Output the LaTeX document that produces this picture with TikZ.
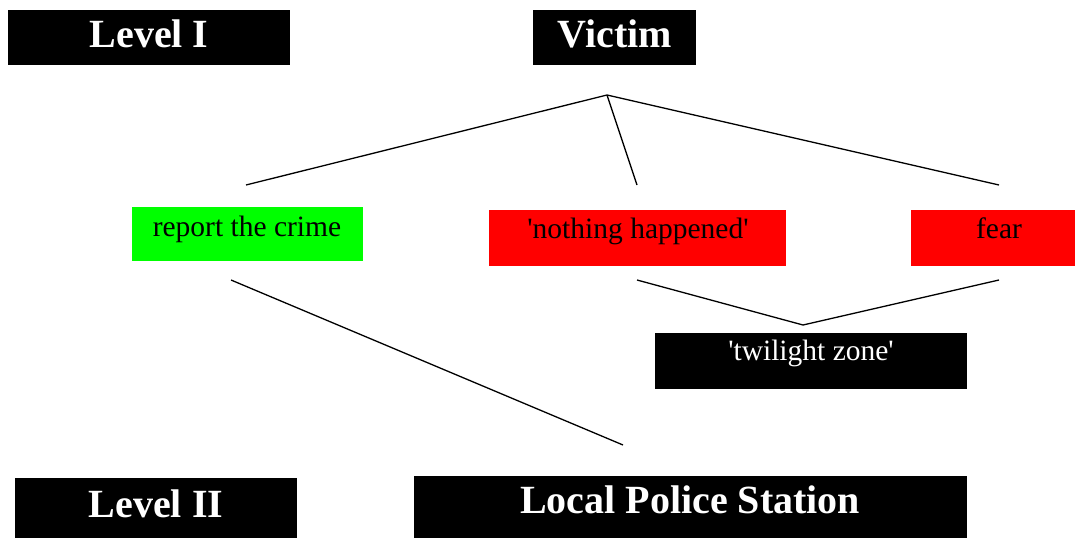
\documentclass[tikz,border=0pt]{standalone}
\usepackage{fontspec}
\setmainfont{Liberation Serif}
\begin{document}
\begin{tikzpicture}[x=1pt,y=-1pt,
  box/.style={inner sep=0pt, outer sep=0pt, anchor=north west, draw=none},
  blackbox/.style={box, fill=black},
  greenbox/.style={box, fill=boxgreen},
  redbox/.style={box, fill=boxred},
  bigtext/.style={font=\fontsize{40}{40}\selectfont\bfseries, text=white, anchor=base, inner sep=0pt},
  smalltext/.style={font=\fontsize{29.5}{29.5}\selectfont, anchor=base, inner sep=0pt},
  link/.style={line width=1.3pt, draw=black}]
\definecolor{boxgreen}{HTML}{00FF00}
\definecolor{boxred}{HTML}{FF0000}
\useasboundingbox (0,0) rectangle (1075,540);

% boxes
\node[blackbox, minimum width=282pt, minimum height=55pt] (lvlIbox) at (8,10) {};
\node[blackbox, minimum width=163pt, minimum height=55pt] (victimbox) at (533,10) {};
\node[greenbox, minimum width=231pt, minimum height=54pt] (reportbox) at (132,207) {};
\node[redbox, minimum width=297pt, minimum height=56pt] (nothingbox) at (489,210) {};
\node[redbox, minimum width=164pt, minimum height=56pt] (fearbox) at (911,210) {};
\node[blackbox, minimum width=312pt, minimum height=56pt] (twilightbox) at (655,333) {};
\node[blackbox, minimum width=282pt, minimum height=60pt] (lvlIIbox) at (15,478) {};
\node[blackbox, minimum width=553pt, minimum height=62pt] (policebox) at (414,476) {};

% texts
\node[bigtext] (lvlI) at (149,48) {Level I};
\node[bigtext] (victim) at (615,48) {Victim};
\node[smalltext] (report) at (247,236) {report the crime};
\node[smalltext] (nothing) at (638,238) {\textquotesingle nothing happened\textquotesingle};
\node[smalltext] (fear) at (999,238) {fear};
\node[smalltext, text=white] (twilight) at (811,360) {\textquotesingle twilight zone\textquotesingle};
\node[bigtext] (lvlII) at (156,517) {Level II};
\node[bigtext] (police) at (690,513) {Local Police Station};

% connector end points
\coordinate (apex) at (607,95);
\coordinate (reportTop) at (246,185);
\coordinate (nothingTop) at (637,185);
\coordinate (fearTop) at (999,185);
\coordinate (nothingBot) at (637,280);
\coordinate (fearBot) at (999,280);
\coordinate (twilightTop) at (803,325);
\coordinate (reportBot) at (231,280);
\coordinate (policeTop) at (623,445);

% connectors
\draw[link] (reportTop) -- (apex) -- (fearTop);
\draw[link] (apex) -- (nothingTop);
\draw[link] (nothingBot) -- (twilightTop) -- (fearBot);
\draw[link] (reportBot) -- (policeTop);
\end{tikzpicture}
\end{document}
